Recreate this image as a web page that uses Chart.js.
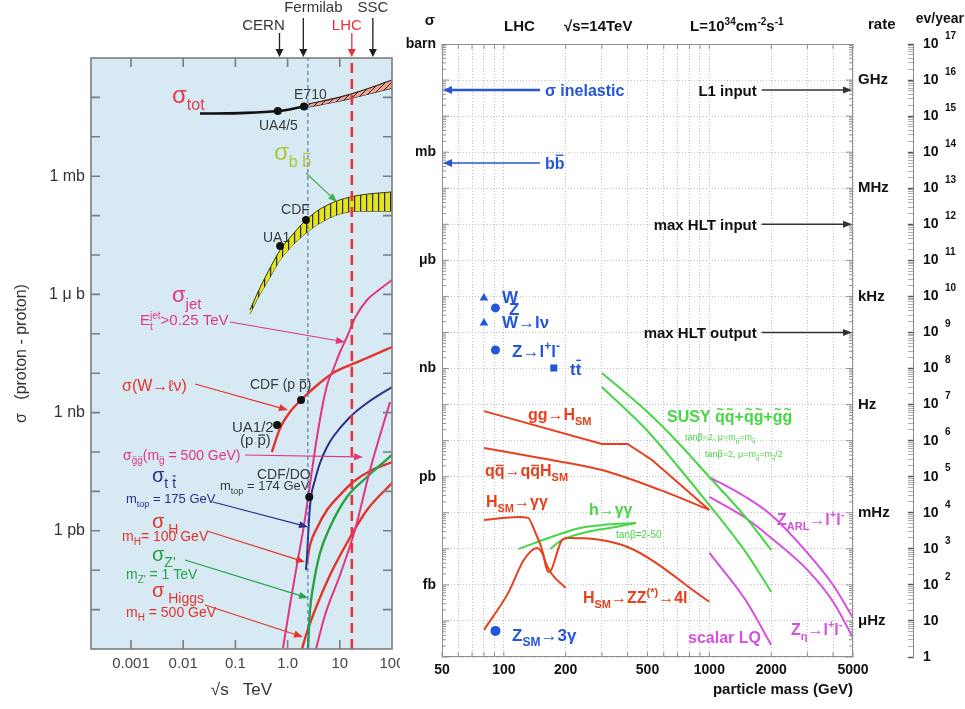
<!DOCTYPE html>
<html>
<head>
<meta charset="utf-8">
<title>Cross sections at hadron colliders</title>
<script src="https://cdn.jsdelivr.net/npm/chart.js@4.4.1/dist/chart.umd.min.js"></script>
<style>
  html, body { margin: 0; padding: 0; background: #ffffff; }
  #wrap { position: relative; width: 965px; height: 709px; overflow: hidden; background: #ffffff; }
  #left { position: absolute; left: 0; top: 0; }
  #right { position: absolute; left: 400px; top: 0; background: #ffffff; }
</style>
</head>
<body>
<div id="wrap">
  <canvas id="left" width="400" height="709"></canvas>
  <canvas id="right" width="565" height="709"></canvas>
</div>
<script>
const FONT = "'Liberation Sans', Arial, Helvetica, sans-serif";

// ================= left panel: sqrt(s) in TeV, sigma in pb =================
const sqrtsTicks = [0.001, 0.01, 0.1, 1, 10, 100];
const sqrtsTickLabels = ['0.001', '0.01', '0.1', '1.0', '10', '100'];
const sigmaDecades = [1e-3, 1e-2, 1e-1, 1, 10, 1e2, 1e3, 1e4, 1e5, 1e6, 1e7, 1e8, 1e9, 1e10, 1e11, 1e12];
const sigmaUnitValues = [1e9, 1e6, 1e3, 1];
const sigmaUnitNames = ['1 mb', '1 \u03bc b', '1 nb', '1 pb'];

const machineNames = ['CERN', 'Fermilab', 'LHC', 'SSC'];
const machineEnergies = [0.7, 2.0, 17, 43];
const tevatronLine = 2.45;
const lhcLine = 17;

const sigmaTot = [[0.021, 3.9e10], [0.12, 4.0e10], [0.65, 4.5e10], [2.06, 5.9e10], [2.5, 6.3e10]];
const sigmaTotHigh = [[2.5, 6.8e10], [10, 1.02e11], [25, 1.45e11], [100, 2.77e11]];
const sigmaTotLow = [[2.5, 5.7e10], [10, 8.1e10], [25, 1.09e11], [100, 1.73e11]];
const sigmaTotMeas = [[0.65, 4.5e10], [2.06, 5.9e10]];

const sigmaBbHigh = [[0.19, 4.0e5], [0.27, 1.15e6], [0.42, 3.7e6], [0.72, 1.34e7], [1.22, 3.2e7], [2.25, 7.7e7], [4.2, 1.47e8], [10, 2.5e8], [24, 3.3e8], [100, 4.0e8]];
const sigmaBbLow = [[0.19, 3.2e5], [0.27, 8.1e5], [0.42, 2.2e6], [0.72, 7.5e6], [1.22, 1.7e7], [2.25, 3.6e7], [4.2, 6.5e7], [10, 1.1e8], [24, 1.3e8], [100, 1.3e8]];
const sigmaBbMeas = [[0.72, 1.7e7], [2.25, 7.7e7]];

const sigmaW = [[0.5, 100], [0.72, 406], [1.11, 1035], [1.81, 2090], [3.35, 4470], [7.41, 1.01e4], [15.7, 1.61e4], [33.2, 2.43e4], [100, 4.62e4]];
const sigmaWMeas = [[0.63, 484], [1.81, 2090]];
const sigmaJet = [[0.817, 1.06e-3], [1.11, 0.0131], [1.51, 0.136], [2.06, 1.4], [2.94, 34.9], [3.66, 240], [4.77, 1754], [5.94, 5984], [7.41, 1.2e4], [10.1, 3.45e4], [13.7, 8.3e4], [19.5, 2.52e5], [33.2, 7.2e5], [58.9, 1.37e6], [100, 2.32e6]];
const sigmaGluino = [[3.5, 1e-3], [5.21, 0.0073], [10.1, 0.0755], [19.5, 1.05], [37.9, 34.9], [91.6, 1858]];
const sigmaTT = [[2.25, 0.101], [2.35, 0.216], [2.57, 1.88], [2.81, 7.21], [3.35, 19.5], [4.18, 52.6], [5.69, 134], [7.41, 240], [15.7, 773], [33.2, 1754], [100, 4467]];
const sigmaTTMeas = [[2.6, 7.2]];
const sigmaH100 = [[2.35, 0.152], [2.69, 0.436], [3.66, 1.18], [5.69, 3.37], [10.1, 8.1], [17.9, 17.3], [37.9, 33], [100, 55.7]];
const sigmaZprime = [[2.46, 1e-3], [2.69, 0.00977], [3.07, 0.0375], [4.18, 0.273], [6.5, 1.25], [13.7, 7.2], [33.2, 23.2], [100, 84]];
const sigmaH500 = [[1.89, 1e-3], [2.35, 0.0027], [3.66, 0.0131], [6.5, 0.0755], [13.7, 0.49], [33.2, 3.37], [100, 16.3]];

// ================= right panel: particle mass in GeV, sigma in pb =================
const massLabels = [50, 100, 200, 500, 1000, 2000, 5000];
const massGrid = [50, 60, 70, 80, 90, 100, 200, 300, 400, 500, 600, 700, 800, 900, 1000, 2000, 3000, 4000, 5000];
const xsecUnitValues = [1e12, 1e9, 1e6, 1e3, 1, 1e-3];
const xsecUnitNames = ['barn', 'mb', '\u03bcb', 'nb', 'pb', 'fb'];
const rateUnitValues = [1e9, 1e6, 1e3, 1, 1e-3, 1e-6];
const rateUnitNames = ['GHz', 'MHz', 'kHz', 'Hz', 'mHz', '\u03bcHz'];
const luminosity = 1e34;       // cm^-2 s^-1
const pbInCm2 = 1e-36;
const secondsPerYear = 1e7;
const rateFactor = luminosity * pbInCm2;          // Hz per pb
const eventsFactor = rateFactor * secondsPerYear;  // events per year per pb

const sigmaInelastic = 5.3e10;
const sigmaBbbar = 5.0e8;
const triggerNames = ['L1 input', 'max HLT input', 'max HLT output'];
const triggerRates = [5.3e8, 1.0e5, 100];

const wBoson = [[80, 9.0e4]];
const zBoson = [[91, 4.8e4]];
const wLepton = [[80, 1.83e4]];
const zLepton = [[91, 3.27e3]];
const topPair = [[175, 1035]];
const zThreePhoton = [[91, 5.3e-5]];

const ggH = [[80, 66], [300, 8.1], [400, 8.1], [526, 2.9], [1000, 0.12]];
const qqH = [[80, 6.25], [150, 3.3], [300, 1.53], [575, 0.43], [1000, 0.12]];
const hGamGamSM = [[80, 0.063], [118, 0.076], [131, 0.072], [142, 0.029], [152, 0.0112], [160, 0.0041], [170, 0.0021], [200, 0.00082]];
const hZZ4l = [[80, 5.6e-5], [105, 6.0e-4], [125, 0.0049], [145, 0.0106], [155, 0.0068], [164, 0.0023], [170, 0.0026], [192, 0.0176], [205, 0.02], [400, 0.0112], [1000, 3.4e-4]];
const hGamGamLow = [[118, 0.0099], [170, 0.0213], [235, 0.0379], [300, 0.0458], [440, 0.0521]];
const hGamGamHigh = [[168, 0.0099], [192, 0.0176], [254, 0.0293], [351, 0.0403], [440, 0.0521]];
const susyA = [[300, 751], [500, 62], [700, 9.2], [1000, 0.98], [1500, 0.076], [2000, 0.0093]];
const susyB = [[300, 308], [500, 18.5], [700, 1.98], [1000, 0.164], [1500, 0.0082], [2000, 6.4e-4]];
const zARL = [[1000, 0.98], [1500, 0.274], [2000, 0.0867], [3000, 0.0077], [4000, 9.9e-4], [5000, 1.21e-4]];
const zEta = [[1000, 0.274], [1500, 0.0716], [2000, 0.02], [3000, 0.0026], [4000, 3.4e-4], [5000, 3.4e-5]];
const scalarLQ = [[1000, 0.0077], [1500, 3.8e-4], [2000, 2.15e-5]];

// ================= colours =================
const RED = '#e3332a', PINK = '#e2357f', NAVY = '#2b2f86', GREEN = '#25a345', OLIVE = '#b3c33a', GREY = '#3a3a3a', TOTRED = '#e23b4c';
const BLUE = '#2356d8', RRED = '#e8401e', RGREEN = '#46d646', MAG = '#d64fe0';

// ================= helpers =================
const pts = arr => arr.map(([x, y]) => ({ x, y }));

function parseRich(str, mode, out) {
  out = out || []; mode = mode || 'n';
  let i = 0;
  const grab = k => {
    let d = 0, j = k;
    for (; j < str.length; j++) { if (str[j] === '{') d++; else if (str[j] === '}' && --d === 0) break; }
    return [str.slice(k + 1, j), j + 1];
  };
  while (i < str.length) {
    const c = str[i];
    if ((c === '_' || c === '^') && str[i + 1] === '{') { const [inner, nx] = grab(i + 1); parseRich(inner, c === '_' ? 'sub' : 'sup', out); i = nx; continue; }
    if (c === '@' && str[i + 1] === '{') { const [a, n1] = grab(i + 1); const [b, n2] = grab(n1); out.push({ stack: [a, b] }); i = n2; continue; }
    if ((c === '!' || c === '`') && i + 1 < str.length) { out.push({ t: str[i + 1], mode, mark: c === '!' ? 'bar' : 'tilde' }); i += 2; continue; }
    out.push({ t: c, mode }); i++;
  }
  return out;
}

function drawRich(ctx, str, x, y, o) {
  const size = o.size, fam = FONT, wt = o.weight || 'normal';
  const small = Math.round(size * 0.68);
  const fontOf = m => `${wt} ${m === 'n' ? size : small}px ${fam}`;
  const dyOf = m => (m === 'sub' ? size * 0.3 : m === 'sup' ? -size * 0.42 : 0);
  const runs = [];
  for (const it of parseRich(str)) {
    const last = runs[runs.length - 1];
    if (!it.stack && !it.mark && last && !last.stack && !last.mark && last.mode === it.mode) last.t += it.t;
    else runs.push(Object.assign({}, it));
  }
  let total = 0;
  for (const r of runs) {
    if (r.stack) { ctx.font = fontOf('sub'); r.w = Math.max(ctx.measureText(r.stack[0]).width, ctx.measureText(r.stack[1]).width); }
    else { ctx.font = fontOf(r.mode); r.w = ctx.measureText(r.t).width; }
    total += r.w;
  }
  let cx = o.align === 'right' ? x - total : o.align === 'center' ? x - total / 2 : x;
  ctx.save();
  ctx.fillStyle = o.color; ctx.strokeStyle = o.color; ctx.textBaseline = 'alphabetic'; ctx.textAlign = 'left';
  for (const r of runs) {
    if (r.stack) {
      ctx.font = fontOf('sub');
      ctx.fillText(r.stack[0], cx, y + dyOf('sub'));
      ctx.fillText(r.stack[1], cx, y + dyOf('sup'));
    } else {
      const fs = r.mode === 'n' ? size : small;
      const by = y + dyOf(r.mode);
      ctx.font = fontOf(r.mode);
      ctx.fillText(r.t, cx, by);
      if (r.mark === 'bar') {
        const tall = /[bdfhklt]/.test(r.t);
        const yy = by - fs * (tall ? 0.86 : 0.66);
        ctx.lineWidth = Math.max(1, fs / 12);
        ctx.beginPath(); ctx.moveTo(cx + r.w * 0.1, yy); ctx.lineTo(cx + r.w * 0.9, yy); ctx.stroke();
      }
      if (r.mark === 'tilde') {
        ctx.font = `${wt} ${Math.round(fs * 0.8)}px ${fam}`;
        ctx.textAlign = 'center';
        ctx.fillText('~', cx + r.w / 2, by - fs * 0.5);
        ctx.textAlign = 'left';
      }
    }
    cx += r.w;
  }
  ctx.restore();
  return total;
}

function arrow(ctx, x1, y1, x2, y2, color, lw, hl, hw) {
  const a = Math.atan2(y2 - y1, x2 - x1);
  ctx.save();
  ctx.strokeStyle = color; ctx.fillStyle = color; ctx.lineWidth = lw;
  ctx.beginPath(); ctx.moveTo(x1, y1); ctx.lineTo(x2 - Math.cos(a) * hl * 0.8, y2 - Math.sin(a) * hl * 0.8); ctx.stroke();
  ctx.beginPath(); ctx.moveTo(x2, y2);
  ctx.lineTo(x2 - hl * Math.cos(a) + (hw / 2) * Math.sin(a), y2 - hl * Math.sin(a) - (hw / 2) * Math.cos(a));
  ctx.lineTo(x2 - hl * Math.cos(a) - (hw / 2) * Math.sin(a), y2 - hl * Math.sin(a) + (hw / 2) * Math.cos(a));
  ctx.closePath(); ctx.fill();
  ctx.restore();
}

function makePattern(bg, w, h, paint) {
  const c = document.createElement('canvas'); c.width = w; c.height = h;
  const g = c.getContext('2d');
  g.fillStyle = bg; g.fillRect(0, 0, w, h);
  paint(g);
  return g.createPattern(c, 'repeat');
}
const hatchSalmon = makePattern('#f1a08c', 6, 6, g => {
  g.strokeStyle = '#222'; g.lineWidth = 1; g.beginPath(); g.moveTo(-1, 7); g.lineTo(7, -1); g.stroke();
});
const stripeYellow = makePattern('#e3e41c', 6, 2, g => { g.fillStyle = '#2a2a10'; g.fillRect(0, 0, 1.2, 2); });

function curve(data, color, width, extra) {
  return Object.assign({ data: pts(data), showLine: true, borderColor: color, borderWidth: width, pointRadius: 0,
    cubicInterpolationMode: 'monotone', fill: false, order: 1 }, extra || {});
}
function marks(data, color, style, radius) {
  return { data: pts(data), showLine: false, pointStyle: style, pointRadius: radius, backgroundColor: color, borderColor: color, borderWidth: 0, order: 0 };
}

// ================= left annotations (positions in decades of TeV / pb) =================
const leftNotes = [
  { at: [-2.214, 10.858], text: 'σ_{tot}', color: TOTRED, size: 24 },
  { at: [0.123, 10.959], text: 'E710', color: GREY, size: 14 },
  { at: [-0.548, 10.173], text: 'UA4/5', color: GREY, size: 14 },
  { at: [-0.26, 9.411], text: 'σ_{b !b}', color: OLIVE, size: 24 },
  { at: [-0.126, 8.041], text: 'CDF', color: GREY, size: 14 },
  { at: [-0.471, 7.33], text: 'UA1', color: GREY, size: 14 },
  { at: [-2.214, 5.807], text: 'σ_{jet}', color: PINK, size: 22 },
  { at: [-2.827, 5.223], text: 'E@{t}{jet}>0.25 TeV', color: PINK, size: 15 },
  { at: [-3.172, 3.548], text: 'σ(W→ℓν)', color: RED, size: 16 },
  { at: [-0.72, 3.599], text: 'CDF (p !p)', color: GREY, size: 14 },
  { at: [-1.065, 2.508], text: 'UA1/2', color: GREY, size: 15 },
  { at: [-0.912, 2.178], text: '(p !p)', color: GREY, size: 15 },
  { at: [-3.153, 1.797], text: 'σ_{`g`g}(m_{`g} = 500 GeV)', color: PINK, size: 14 },
  { at: [-0.586, 1.315], text: 'CDF/DO', color: GREY, size: 14 },
  { at: [-1.295, 1.036], text: 'm_{top} = 174 GeV', color: GREY, size: 13 },
  { at: [-2.597, 1.239], text: 'σ_{t !t}', color: NAVY, size: 20 },
  { at: [-3.096, 0.706], text: 'm_{top} = 175 GeV', color: NAVY, size: 13 },
  { at: [-2.597, 0.071], text: 'σ_{ H}', color: RED, size: 20 },
  { at: [-3.172, -0.259], text: 'm_{H}= 100 GeV', color: RED, size: 14 },
  { at: [-2.597, -0.766], text: "σ_{Z'}", color: GREEN, size: 20 },
  { at: [-3.096, -1.223], text: "m_{Z'} = 1 TeV", color: GREEN, size: 14 },
  { at: [-2.597, -1.68], text: 'σ_{ Higgs}', color: RED, size: 20 },
  { at: [-3.096, -2.188], text: 'm_{H} = 500 GeV', color: RED, size: 14 }
];
const leftPointers = [
  { from: [0.353, 9.081], to: [0.947, 8.345], color: '#3fb04a' },
  { from: [-1.103, 5.299], to: [1.1, 4.792], color: PINK },
  { from: [-1.774, 3.726], to: [0.008, 3.066], color: RED },
  { from: [-0.816, 1.924], to: [1.445, 1.873], color: PINK },
  { from: [-1.429, 0.731], to: [0.391, 0.096], color: NAVY },
  { from: [-1.544, -0.005], to: [0.334, -0.792], color: RED },
  { from: [-1.965, -0.741], to: [0.391, -1.706], color: GREEN },
  { from: [-1.582, -1.883], to: [0.295, -2.695], color: RED }
];

const leftDecor = {
  id: 'leftDecor',
  beforeDraw(chart) {
    const { ctx, chartArea: a } = chart;
    ctx.save(); ctx.fillStyle = '#d7eaf4'; ctx.fillRect(a.left, a.top, a.right - a.left, a.bottom - a.top); ctx.restore();
  },
  afterDatasetsDraw(chart) {
    const { ctx, chartArea: a, scales: { x, y } } = chart;
    const P = (ex, ey) => [x.getPixelForValue(10 ** ex), y.getPixelForValue(10 ** ey)];
    ctx.save();
    ctx.strokeStyle = '#7d7d7d'; ctx.lineWidth = 1.6;
    ctx.strokeRect(a.left, a.top, a.right - a.left, a.bottom - a.top);
    ctx.beginPath();
    sigmaDecades.forEach(v => {
      const py = y.getPixelForValue(v);
      if (py <= a.top + 1 || py >= a.bottom - 1) return;
      ctx.moveTo(a.left, py); ctx.lineTo(a.left + 9, py);
      ctx.moveTo(a.right, py); ctx.lineTo(a.right - 9, py);
    });
    sqrtsTicks.forEach(v => {
      const px = x.getPixelForValue(v);
      if (px <= a.left + 1 || px >= a.right - 1) return;
      ctx.moveTo(px, a.top); ctx.lineTo(px, a.top + 9);
      ctx.moveTo(px, a.bottom); ctx.lineTo(px, a.bottom - 9);
    });
    ctx.stroke();
    ctx.restore();

    // collider energies above the frame
    const labelShift = [-16, 10, -5, 0];
    machineNames.forEach((name, i) => {
      const px = x.getPixelForValue(machineEnergies[i]);
      const upper = i % 2 === 1;
      const col = name === 'LHC' ? '#e8323c' : '#1e1e1e';
      arrow(ctx, px, upper ? a.top - 40 : a.top - 25, px, a.top - 1, col, 1.3, 8, 8);
      ctx.save();
      ctx.font = `15px ${FONT}`; ctx.fillStyle = name === 'LHC' ? '#e8323c' : '#333'; ctx.textAlign = 'center'; ctx.textBaseline = 'middle';
      ctx.fillText(name, px + labelShift[i], upper ? a.top - 50 : a.top - 32);
      ctx.restore();
    });

    leftPointers.forEach(p => {
      const [x1, y1] = P(...p.from), [x2, y2] = P(...p.to);
      arrow(ctx, x1, y1, x2, y2, p.color, 1.2, 9, 7);
    });
    leftNotes.forEach(n => {
      const [px, py] = P(...n.at);
      drawRich(ctx, n.text, px, py, n);
    });
  }
};

new Chart(document.getElementById('left'), {
  type: 'scatter',
  data: {
    datasets: [
      marks(sigmaTotMeas, '#111', 'circle', 4),
      marks(sigmaBbMeas, '#111', 'circle', 4),
      marks(sigmaWMeas, '#111', 'circle', 4),
      marks(sigmaTTMeas, '#111', 'circle', 4),
      curve([[lhcLine, 1e-3], [lhcLine, 1e12]], '#e8323c', 2.6, { borderDash: [10, 6], order: 0, cubicInterpolationMode: 'default', tension: 0 }),
      curve([[tevatronLine, 1e-3], [tevatronLine, 1e12]], '#3b66c4', 1, { borderDash: [4, 3], order: 0, cubicInterpolationMode: 'default', tension: 0 }),
      curve(sigmaTot, '#111', 2.6),
      curve(sigmaJet, PINK, 2),
      curve(sigmaGluino, PINK, 2),
      curve(sigmaW, RED, 2.4),
      curve(sigmaTT, NAVY, 2),
      curve(sigmaZprime, GREEN, 2.4),
      curve(sigmaH100, RED, 2.4),
      curve(sigmaH500, RED, 2.4),
      curve(sigmaTotHigh, '#222', 1.2, { fill: '+1', backgroundColor: hatchSalmon, order: 2 }),
      curve(sigmaTotLow, '#222', 1.2, { order: 2 }),
      curve(sigmaBbHigh, '#3a3a14', 1, { fill: '+1', backgroundColor: stripeYellow, order: 2 }),
      curve(sigmaBbLow, '#3a3a14', 1, { order: 2 })
    ]
  },
  options: {
    responsive: false, animation: false, devicePixelRatio: 1,
    layout: { padding: { left: 0, right: 8, top: 58, bottom: 0 } },
    plugins: { legend: { display: false }, tooltip: { enabled: false } },
    scales: {
      x: {
        type: 'logarithmic', min: 10 ** -3.766, max: 100,
        afterBuildTicks: s => { s.ticks = sqrtsTicks.map(v => ({ value: v })); },
        afterFit: s => { s.height = 60; s.paddingLeft = 0; s.paddingRight = 0; },
        ticks: { autoSkip: false, maxRotation: 0, padding: 6, color: '#444', font: { family: FONT, size: 15 },
          callback: v => { const i = sqrtsTicks.findIndex(t => Math.abs(t - v) / t < 1e-6); return i >= 0 ? sqrtsTickLabels[i] : ''; } },
        grid: { display: false, drawTicks: false }, border: { display: false },
        title: { display: true, text: '\u221as   TeV', color: '#333', font: { family: FONT, size: 17 }, padding: { top: 0, bottom: 8 } }
      },
      y: {
        type: 'logarithmic', min: 1e-3, max: 1e12,
        afterBuildTicks: s => { s.ticks = sigmaDecades.map(v => ({ value: v })); },
        afterFit: s => { s.width = 91; s.paddingTop = 0; s.paddingBottom = 0; },
        ticks: { autoSkip: false, padding: 6, color: '#333', font: { family: FONT, size: 16 },
          callback: v => { const i = sigmaUnitValues.findIndex(t => Math.abs(t - v) / t < 1e-6); return i >= 0 ? sigmaUnitNames[i] : ''; } },
        grid: { display: false, drawTicks: false }, border: { display: false },
        title: { display: true, text: '\u03c3   (proton - proton)', color: '#333', font: { family: FONT, size: 16 }, padding: { top: 12, bottom: 0 } }
      }
    }
  },
  plugins: [leftDecor]
});

// ================= right annotations (positions in decades of GeV / pb) =================
const rightNotes = [
  { at: [2.2, 10.558], text: 'σ inelastic', color: BLUE, size: 16 },
  { at: [2.2, 8.534], text: 'b!b', color: BLUE, size: 16 },
  { at: [1.991, 4.818], text: 'W', color: BLUE, size: 17 },
  { at: [2.025, 4.485], text: 'Z', color: BLUE, size: 17 },
  { at: [1.991, 4.124], text: 'W→lν', color: BLUE, size: 17 },
  { at: [2.04, 3.32], text: 'Z→l^{+}l^{-}', color: BLUE, size: 17 },
  { at: [2.322, 2.821], text: 't!t', color: BLUE, size: 17 },
  { at: [2.117, 1.573], text: 'gg→H_{SM}', color: RRED, size: 16 },
  { at: [1.908, 0.02], text: 'q!q→q!qH_{SM}', color: RRED, size: 16 },
  { at: [1.913, -0.84], text: 'H_{SM}→γγ', color: RRED, size: 16 },
  { at: [2.414, -1.062], text: 'h→γγ', color: RGREEN, size: 16 },
  { at: [2.546, -1.7], text: 'tanβ=2-50', color: RGREEN, size: 10, weight: 'normal' },
  { at: [2.385, -3.502], text: 'H_{SM}→ZZ^{(*)}→4l', color: RRED, size: 16 },
  { at: [2.04, -4.556], text: 'Z_{SM}→3γ', color: BLUE, size: 17 },
  { at: [2.896, -4.611], text: 'scalar LQ', color: MAG, size: 16 },
  { at: [3.397, -4.39], text: 'Z_{η}→l^{+}l^{-}', color: MAG, size: 16 },
  { at: [3.329, -1.339], text: 'Z_{ARL}→l^{+}l^{-}', color: MAG, size: 16 },
  { at: [2.794, 1.517], text: 'SUSY `q`q+`q`g+`g`g', color: RGREEN, size: 16 },
  { at: [2.881, 1.018], text: 'tanβ=2, μ=m_{`g}=m_{`q}', color: RGREEN, size: 9, weight: 'normal' },
  { at: [2.979, 0.547], text: 'tanβ=2, μ=m_{`g}=m_{`q}/2', color: RGREEN, size: 9, weight: 'normal' }
];

const rightDecor = {
  id: 'rightDecor',
  afterDatasetsDraw(chart) {
    const { ctx, chartArea: a, scales: { x, y, rate } } = chart;
    const P = (ex, ey) => [x.getPixelForValue(10 ** ex), y.getPixelForValue(10 ** ey)];
    ctx.save();
    ctx.strokeStyle = '#8f8f8f'; ctx.lineWidth = 1;
    ctx.strokeRect(a.left + 0.5, a.top + 0.5, a.right - a.left - 1, a.bottom - a.top - 1);
    ctx.beginPath();
    for (let k = -5; k < 12; k++) {
      for (let m = 1; m < 10; m++) {
        const py = y.getPixelForValue(m * 10 ** k);
        const len = m === 1 ? 7 : 4;
        ctx.moveTo(a.left, py); ctx.lineTo(a.left + len, py);
        ctx.moveTo(a.right, py); ctx.lineTo(a.right - len, py);
      }
    }
    massGrid.forEach(v => {
      const px = x.getPixelForValue(v);
      ctx.moveTo(px, a.bottom); ctx.lineTo(px, a.bottom - 5);
      ctx.moveTo(px, a.top); ctx.lineTo(px, a.top + 5);
    });
    ctx.stroke();
    ctx.restore();

    // cross sections of the inclusive processes, pointing at the sigma axis
    const startX = x.getPixelForValue(150);
    arrow(ctx, startX, y.getPixelForValue(sigmaInelastic), a.left + 1, y.getPixelForValue(sigmaInelastic), BLUE, 2.4, 9, 8);
    arrow(ctx, startX, y.getPixelForValue(sigmaBbbar), a.left + 1, y.getPixelForValue(sigmaBbbar), BLUE, 1.6, 9, 8);

    // trigger rates, pointing at the rate axis
    const textRight = x.getPixelForValue(1700);
    triggerNames.forEach((name, i) => {
      const py = rate.getPixelForValue(triggerRates[i]);
      arrow(ctx, textRight + 5, py, a.right - 1, py, '#333', 1.6, 9, 7);
      drawRich(ctx, name, textRight, py + 5.5, { size: 15, weight: 'bold', color: '#111', align: 'right' });
    });

    rightNotes.forEach(n => {
      const [px, py] = P(...n.at);
      drawRich(ctx, n.text, px, py, Object.assign({ weight: 'bold' }, n));
    });
  },
  afterDraw(chart) {
    const { ctx, chartArea: a, scales: { ev } } = chart;
    ctx.save();
    ctx.fillStyle = '#111'; ctx.textBaseline = 'middle'; ctx.textAlign = 'left';
    for (let k = 0; k <= 17; k++) {
      const py = ev.getPixelForValue(10 ** k);
      const x0 = ev.left + 10;
      ctx.font = `bold 14px ${FONT}`;
      ctx.fillText(k === 0 ? '1' : '10', x0, py);
      if (k >= 2) { ctx.font = `bold 10px ${FONT}`; ctx.fillText(String(k), x0 + 22, py - 8); }
    }
    ctx.restore();
    // header line
    drawRich(ctx, 'σ', a.left - 12, 25, { size: 15, weight: 'bold', color: '#111', align: 'center' });
    drawRich(ctx, 'LHC', a.left + 62, 31, { size: 15, weight: 'bold', color: '#111' });
    drawRich(ctx, '\u221as=14TeV', a.left + 122, 31, { size: 15, weight: 'bold', color: '#111' });
    drawRich(ctx, 'L=10^{34}cm^{-2}s^{-1}', a.left + 248, 31, { size: 15, weight: 'bold', color: '#111' });
    drawRich(ctx, 'rate', a.right + 15, 29, { size: 15, weight: 'bold', color: '#111' });
    drawRich(ctx, 'ev/year', ev.right - 1, 23, { size: 14, weight: 'bold', color: '#111', align: 'right' });
  }
};

const isDecade = v => Math.abs(Math.log10(v) - Math.round(Math.log10(v))) < 1e-6;
const evTicks = [];
for (let k = 0; k < 17; k++) for (let m = 1; m < 10; m++) evTicks.push(m * 10 ** k);
evTicks.push(1e17);

new Chart(document.getElementById('right'), {
  type: 'scatter',
  data: {
    datasets: [
      marks(wBoson, BLUE, 'triangle', 5),
      marks(wLepton, BLUE, 'triangle', 5),
      marks(zBoson, BLUE, 'circle', 4.5),
      marks(zLepton, BLUE, 'circle', 4.5),
      marks(topPair, BLUE, 'rect', 5),
      marks(zThreePhoton, BLUE, 'circle', 5),
      curve(ggH, RRED, 2, { cubicInterpolationMode: 'default', tension: 0 }),
      curve(qqH, RRED, 2),
      curve(hGamGamSM, RRED, 2),
      curve(hZZ4l, RRED, 2),
      curve(hGamGamLow, RGREEN, 2),
      curve(hGamGamHigh, RGREEN, 2),
      curve(susyA, RGREEN, 2),
      curve(susyB, RGREEN, 2),
      curve(zARL, MAG, 2),
      curve(zEta, MAG, 2),
      curve(scalarLQ, MAG, 2)
    ]
  },
  options: {
    responsive: false, animation: false, devicePixelRatio: 1,
    layout: { padding: { left: 0, right: 0, top: 44, bottom: 0 } },
    plugins: { legend: { display: false }, tooltip: { enabled: false } },
    scales: {
      x: {
        type: 'logarithmic', min: 50, max: 5000,
        afterBuildTicks: s => { s.ticks = massGrid.map(v => ({ value: v })); },
        afterFit: s => { s.height = 52; s.paddingLeft = 0; s.paddingRight = 0; },
        ticks: { autoSkip: false, maxRotation: 0, padding: 5, color: '#111', font: { family: FONT, size: 14, weight: 'bold' },
          callback: v => (massLabels.includes(Math.round(v)) ? String(Math.round(v)) : '') },
        grid: { color: '#c2c2c2', lineWidth: 1, drawTicks: false },
        border: { display: false, dash: [1, 2] },
        title: { display: true, text: 'particle mass (GeV)', align: 'end', color: '#111', font: { family: FONT, size: 15, weight: 'bold' }, padding: { top: 0, bottom: 10 } }
      },
      y: {
        type: 'logarithmic', min: 1e-5, max: 1e12, position: 'left',
        afterBuildTicks: s => { s.ticks = sigmaDecades.concat([1e-4, 1e-5]).map(v => ({ value: v })); },
        afterFit: s => { s.width = 42; s.paddingTop = 0; s.paddingBottom = 0; },
        ticks: { autoSkip: false, padding: 6, color: '#111', font: { family: FONT, size: 14, weight: 'bold' },
          callback: v => { const i = xsecUnitValues.findIndex(t => Math.abs(t - v) / t < 1e-6); return i >= 0 ? xsecUnitNames[i] : ''; } },
        grid: { color: '#c2c2c2', lineWidth: 1, drawTicks: false },
        border: { display: false, dash: [1, 2] }
      },
      rate: {
        type: 'logarithmic', position: 'right', weight: 0, min: 1e-5 * rateFactor, max: 1e12 * rateFactor,
        afterBuildTicks: s => { s.ticks = rateUnitValues.map(v => ({ value: v })); },
        afterFit: s => { s.width = 60; s.paddingTop = 0; s.paddingBottom = 0; },
        ticks: { autoSkip: false, padding: 5, color: '#111', font: { family: FONT, size: 15, weight: 'bold' },
          callback: v => { const i = rateUnitValues.findIndex(t => Math.abs(t - v) / t < 1e-6); return i >= 0 ? rateUnitNames[i] : ''; } },
        grid: { display: false, drawTicks: false }, border: { display: false }
      },
      ev: {
        type: 'logarithmic', position: 'right', weight: 1, min: 1e-5 * eventsFactor, max: 1e12 * eventsFactor,
        afterBuildTicks: s => { s.ticks = evTicks.map(v => ({ value: v })); },
        afterFit: s => { s.width = 52; s.paddingTop = 0; s.paddingBottom = 0; },
        ticks: { autoSkip: false, padding: 0, callback: () => '' },
        grid: { drawOnChartArea: false, drawTicks: true, tickLength: -5,
          tickColor: c => (isDecade(c.tick.value) ? '#555' : '#9a9a9a'),
          tickWidth: c => (isDecade(c.tick.value) ? 1.4 : 0.8) },
        border: { display: true, color: '#888', width: 1 }
      }
    }
  },
  plugins: [rightDecor]
});
</script>
</body>
</html>
